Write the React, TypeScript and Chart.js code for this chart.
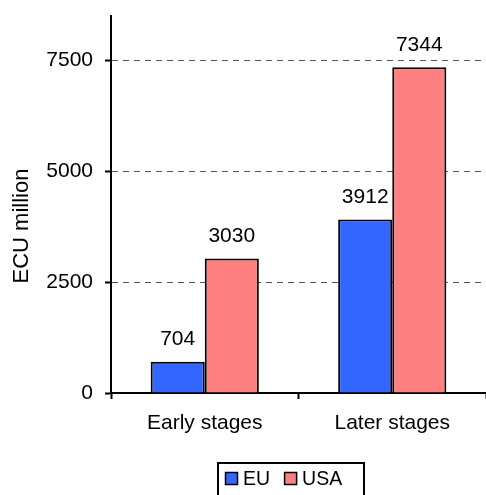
import React, { useEffect, useRef } from "react";
import { Chart, registerables } from "chart.js";

Chart.register(...registerables);

const categories = ["Early stages", "Later stages"];
const seriesNames = ["EU", "USA"];
const euValues = [704, 3912];
const usaValues = [3030, 7344];
const seriesColors = ["#3366FF", "#FF8080"];
const yTicks = [0, 2500, 5000, 7500];
const yTitle = "ECU million";

const FONT = "'Liberation Sans', Arial, Helvetica, sans-serif";

// Value labels above each bar
const valueLabels = {
  id: "valueLabels",
  afterDatasetsDraw(chart: any) {
    const ctx = chart.ctx;
    ctx.save();
    ctx.font = `21px ${FONT}`;
    ctx.fillStyle = "#000";
    ctx.textAlign = "center";
    ctx.textBaseline = "alphabetic";
    chart.data.datasets.forEach((ds: any, di: number) => {
      const meta = chart.getDatasetMeta(di);
      meta.data.forEach((el: any, i: number) => {
        ctx.fillText(String(ds.data[i]), el.x, el.y - 16.5);
      });
    });
    ctx.restore();
  },
};

// Rotated axis title and boxed legend
const extras = {
  id: "extras",
  afterDraw(chart: any) {
    const ctx = chart.ctx;
    ctx.save();
    ctx.translate(22, 226);
    ctx.rotate(-Math.PI / 2);
    ctx.font = `22px ${FONT}`;
    ctx.fillStyle = "#000";
    ctx.textAlign = "center";
    ctx.textBaseline = "middle";
    ctx.fillText(yTitle, 0, 0);
    ctx.restore();

    ctx.save();
    ctx.lineWidth = 2;
    ctx.strokeStyle = "#000";
    ctx.strokeRect(218, 463, 146, 40);
    ctx.font = `19.5px ${FONT}`;
    ctx.textBaseline = "alphabetic";
    ctx.textAlign = "left";
    let x = 225;
    chart.data.datasets.forEach((ds: any) => {
      ctx.fillStyle = ds.backgroundColor;
      ctx.fillRect(x, 472, 13, 13);
      ctx.lineWidth = 1.5;
      ctx.strokeStyle = "#000";
      ctx.strokeRect(x + 0.5, 472.5, 12, 12);
      ctx.fillStyle = "#000";
      ctx.fillText(ds.label, x + 18, 485);
      x += 18 + ctx.measureText(ds.label).width + 14;
    });
    ctx.restore();
  },
};

export default function App() {
  const ref = useRef<HTMLCanvasElement>(null);

  useEffect(() => {
    document.body.style.margin = "0";
    const canvas = ref.current!;
    const chart = new Chart(canvas, {
      type: "bar",
      data: {
        labels: categories,
        datasets: [
          {
            label: seriesNames[0],
            data: euValues,
            backgroundColor: seriesColors[0],
            borderColor: "#000",
            borderWidth: 2,
          },
          {
            label: seriesNames[1],
            data: usaValues,
            backgroundColor: seriesColors[1],
            borderColor: "#000",
            borderWidth: 2,
          },
        ],
      },
      options: {
        responsive: false,
        animation: false,
        devicePixelRatio: 1,
        layout: { padding: { top: 16, right: 0, bottom: 62, left: 0 } },
        datasets: {
          bar: { categoryPercentage: 0.577, barPercentage: 1 },
        },
        plugins: {
          legend: { display: false },
          tooltip: { enabled: false },
        },
        scales: {
          x: {
            afterFit: (s: any) => {
              s.height = 40;
              s.paddingLeft = 0;
              s.paddingRight = 0;
            },
            grid: {
              display: true,
              offset: true,
              drawOnChartArea: false,
              drawTicks: true,
              tickLength: 6,
              tickColor: "#000",
              tickWidth: 2,
            },
            border: { display: true, color: "#000", width: 2 },
            ticks: {
              color: "#000",
              font: { family: FONT, size: 21 },
              padding: 12,
            },
          },
          y: {
            min: 0,
            max: 8500,
            afterFit: (s: any) => {
              s.width = 111;
              s.paddingTop = 0;
              s.paddingBottom = 0;
            },
            afterBuildTicks: (s: any) => {
              s.ticks = yTicks.map((v) => ({ value: v }));
            },
            grid: {
              color: (c: any) => (c.tick && c.tick.value === 0 ? "rgba(0,0,0,0)" : "#555"),
              lineWidth: 1,
              drawTicks: true,
              tickLength: 6,
              tickColor: "#000",
              tickWidth: 2,
            },
            border: { display: true, color: "#000", width: 2, dash: [6, 5] },
            ticks: {
              color: "#000",
              font: { family: FONT, size: 21 },
              padding: 12,
              callback: (v: any) => String(v),
            },
          },
        },
      },
      plugins: [valueLabels, extras],
    });
    return () => chart.destroy();
  }, []);

  return (
    <div style={{ width: 486, height: 495, background: "#fff" }}>
      <canvas ref={ref} width={486} height={495} style={{ display: "block" }} />
    </div>
  );
}
